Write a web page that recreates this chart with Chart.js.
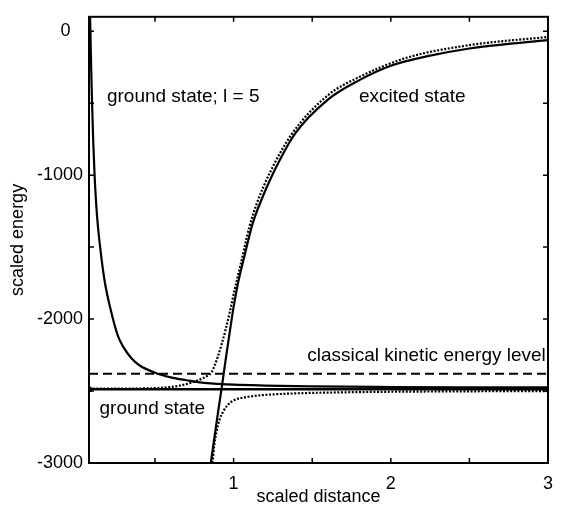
<!DOCTYPE html>
<html>
<head>
<meta charset="utf-8">
<script src="https://cdn.jsdelivr.net/npm/chart.js@4.4.1/dist/chart.umd.min.js"></script>
<style>
  html, body { margin: 0; padding: 0; background: #fff; }
  canvas { display: block; }
</style>
</head>
<body>
<canvas id="c" width="563" height="510"></canvas>
<script>
// ---- data ----
const groundL5X = [0.086, 0.089, 0.094, 0.0994, 0.107, 0.1155, 0.13, 0.151, 0.18, 0.2134, 0.2646, 0.3, 0.35, 0.4, 0.5, 0.6, 0.7, 0.8, 0.9, 1.0, 1.2, 1.5, 2.0, 2.5, 3.0];
const groundL5Y = [120, 0, -262, -496, -768, -1000, -1267, -1502, -1739, -1914, -2119, -2197, -2272, -2321, -2373, -2405, -2425, -2442, -2450, -2456, -2462, -2468, -2472, -2474, -2475];

const excitedX = [0.855, 0.89, 0.927, 0.955, 0.985, 1.0, 1.03, 1.065, 1.12, 1.17, 1.25, 1.39, 1.6, 1.8, 2.0, 2.25, 2.5, 2.75, 3.0];
const excitedY = [-3000, -2730, -2455, -2240, -2020, -1915, -1740, -1580, -1340, -1190, -990, -713, -475, -340, -240, -170, -120, -88, -62];

const dottedUpperX = [0.08, 0.3, 0.5, 0.6, 0.65, 0.73, 0.81, 0.84, 0.862, 0.88, 0.9, 0.925, 0.95, 0.98, 1.01, 1.045, 1.1, 1.15, 1.23, 1.37, 1.6, 1.8, 2.1, 2.5, 3.0];
const dottedUpperY = [-2484, -2483, -2480, -2472, -2464, -2442, -2408, -2390, -2365, -2320, -2260, -2170, -2070, -1930, -1780, -1620, -1360, -1190, -985, -715, -445, -318, -185, -97, -40];

const dottedLowerX = [0.866, 0.876, 0.89, 0.91, 0.935, 0.96, 1.0, 1.08, 1.19, 1.4, 1.7, 2.0, 2.5, 3.0];
const dottedLowerY = [-3000, -2885, -2790, -2700, -2640, -2600, -2565, -2542, -2528, -2516, -2509, -2505, -2502, -2500];

const groundLevelX = [0.08, 3.0];
const groundLevelY = [-2488, -2488];

const kineticLevelX = [0.08, 3.0];
const kineticLevelY = [-2380, -2380];

const xTickValues = [0.5, 1, 1.5, 2, 2.5, 3];
const xTickLabels = ['', '1', '', '2', '', '3'];
const yTickValues = [-3000, -2500, -2000, -1500, -1000, -500, 0];
const yTickLabels = ['-3000', '', '-2000', '', '-1000', '', '0\u2002\u2009'];

const noteTexts = ['ground state; l = 5', 'excited state', 'classical kinetic energy level', 'ground state'];
const noteX = [0.194, 1.797, 1.468, 0.147];
const noteY = [-453, -453, -2257, -2622];

// ---- build ----
const pts = (xs, ys) => xs.map((x, i) => ({ x: x, y: ys[i] }));
const FONT = '"Liberation Sans", Arial, Helvetica, sans-serif';
Chart.defaults.font.family = FONT;
Chart.defaults.color = '#000';

const base = { borderColor: '#000', pointRadius: 0, fill: false, cubicInterpolationMode: 'monotone' };

const frameAndNotes = {
  id: 'frameAndNotes',
  afterDatasetsDraw(chart) {
    const { ctx, chartArea: a, scales: { x, y } } = chart;
    ctx.save();
    ctx.strokeStyle = '#000';
    ctx.lineWidth = 2;
    ctx.strokeRect(a.left, a.top, a.right - a.left, a.bottom - a.top);
    ctx.lineWidth = 1.5;
    const tl = 5;
    x.ticks.forEach(t => {
      if (t.value <= x.min + 1e-9 || t.value >= x.max - 1e-9) return;
      const p = x.getPixelForValue(t.value);
      ctx.beginPath();
      ctx.moveTo(p, a.bottom); ctx.lineTo(p, a.bottom - tl);
      ctx.moveTo(p, a.top); ctx.lineTo(p, a.top + tl);
      ctx.stroke();
    });
    y.ticks.forEach(t => {
      if (t.value <= y.min + 1e-9 || t.value >= y.max - 1e-9) return;
      const p = y.getPixelForValue(t.value);
      ctx.beginPath();
      ctx.moveTo(a.left, p); ctx.lineTo(a.left + tl, p);
      ctx.moveTo(a.right, p); ctx.lineTo(a.right - tl, p);
      ctx.stroke();
    });
    ctx.fillStyle = '#000';
    ctx.font = '19px ' + FONT;
    ctx.textAlign = 'left';
    ctx.textBaseline = 'middle';
    noteTexts.forEach((s, i) => {
      ctx.fillText(s, x.getPixelForValue(noteX[i]), y.getPixelForValue(noteY[i]));
    });
    ctx.restore();
  }
};

new Chart(document.getElementById('c'), {
  type: 'line',
  data: {
    datasets: [
      Object.assign({}, base, { label: 'ground state; l = 5', data: pts(groundL5X, groundL5Y), borderWidth: 2.2 }),
      Object.assign({}, base, { label: 'excited state', data: pts(excitedX, excitedY), borderWidth: 2.2 }),
      Object.assign({}, base, { label: 'diabatic upper', data: pts(dottedUpperX, dottedUpperY), borderWidth: 2.2, borderDash: [2, 1.6] }),
      Object.assign({}, base, { label: 'diabatic lower', data: pts(dottedLowerX, dottedLowerY), borderWidth: 2.2, borderDash: [2, 1.6] }),
      Object.assign({}, base, { label: 'ground state', data: pts(groundLevelX, groundLevelY), borderWidth: 2.4, pointRadius: 2, pointStyle: 'rect', pointBackgroundColor: '#000', cubicInterpolationMode: 'default' }),
      Object.assign({}, base, { label: 'classical kinetic energy level', data: pts(kineticLevelX, kineticLevelY), borderWidth: 2, borderDash: [9, 5], cubicInterpolationMode: 'default' })
    ]
  },
  options: {
    responsive: false,
    animation: false,
    devicePixelRatio: 1,
    layout: { padding: { top: 11, right: 5, left: 0, bottom: 0 } },
    plugins: { legend: { display: false }, tooltip: { enabled: false } },
    scales: {
      x: {
        type: 'linear',
        min: 0.08, max: 3,
        grid: { display: false, drawTicks: false },
        border: { display: false },
        afterBuildTicks: s => { s.ticks = xTickValues.map(v => ({ value: v })); },
        ticks: {
          autoSkip: false, maxRotation: 0, padding: 10,
          font: { size: 18 },
          callback: (v, i) => xTickLabels[xTickValues.indexOf(v)] || ''
        },
        title: { display: true, text: 'scaled distance', font: { size: 18 }, padding: { top: 0, bottom: 2 } },
        afterFit: s => { s.height = 47; }
      },
      y: {
        type: 'linear',
        min: -3000, max: 100,
        grid: { display: false, drawTicks: false },
        border: { display: false },
        afterBuildTicks: s => { s.ticks = yTickValues.map(v => ({ value: v })); },
        ticks: {
          autoSkip: false, padding: 6,
          font: { size: 18 },
          callback: (v, i) => yTickLabels[yTickValues.indexOf(v)] || ''
        },
        title: { display: true, text: 'scaled energy', font: { size: 18 }, padding: { top: 7, bottom: 0 } },
        afterFit: s => { s.width = 89; }
      }
    }
  },
  plugins: [frameAndNotes]
});
</script>
</body>
</html>
